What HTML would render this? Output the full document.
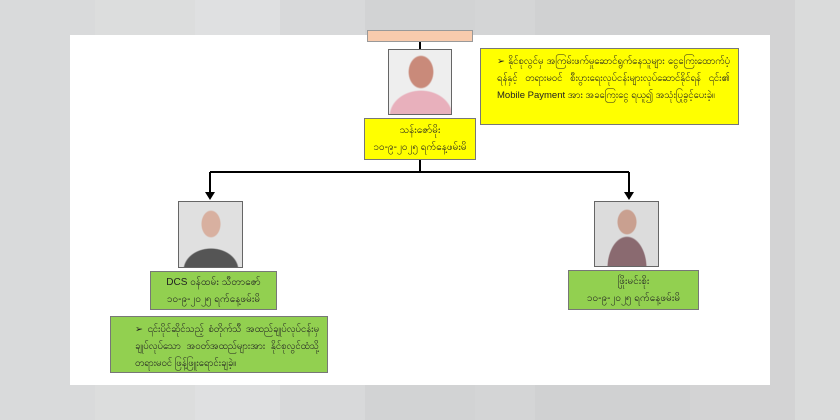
<!DOCTYPE html>
<html><head><meta charset="utf-8"><style>
body{margin:0;width:840px;height:420px;overflow:hidden;position:relative;font-family:"Liberation Sans","Noto Sans CJK SC",sans-serif;
background:linear-gradient(90deg,#d9dadb 0,#d9dadb 95px,#dcdddd 95px,#dcdddd 195px,#dfe0e1 195px,#dfe0e1 280px,#d8d9da 280px,#d8d9da 365px,#d2d3d4 365px,#d2d3d4 475px,#d4d5d6 475px,#d4d5d6 535px,#d0d1d2 535px,#d0d1d2 690px,#d3d3d4 690px,#d3d3d4 795px,#dadbdb 795px);}
.p{position:absolute;box-sizing:border-box}
.panel{left:70px;top:35px;width:700px;height:350px;background:#fff}
.box{border:1px solid #777;font-size:10px;text-align:center;line-height:17px;color:#222;display:flex;flex-direction:column;justify-content:center}
.y{background:#ffff00}.g{background:#92d050}
.photo{border:1px solid #666;background:linear-gradient(#eee,#ccc)}
.txt{text-align:justify;padding:4px 8px 0 16px;line-height:17px;font-size:9.5px;display:block}
</style></head><body>
<div class="p panel"></div>
<div class="p" style="left:367px;top:30px;width:106px;height:12px;background:#f8cbad;border:1px solid #999"></div>
<div class="p" style="left:419px;top:42px;width:2px;height:7px;background:#000"></div>
<div class="p photo" style="left:388px;top:49px;width:64px;height:66px;background:radial-gradient(ellipse 13px 17px at 32px 22px,#c98a7a 90%,transparent 100%),radial-gradient(ellipse 32px 26px at 32px 66px,#e8b0bc 95%,transparent 100%),#eeeeee"></div>
<div class="p box y" style="left:364px;top:118px;width:112px;height:42px">သန်းဇော်မိုး<br>၁၀-၉-၂၀၂၅ ရက်နေ့ဖမ်းမိ</div>
<div class="p box y txt" style="left:480px;top:48px;width:259px;height:77px">➢ နိုင်စုလွင်မှ အကြမ်းဖက်မှုဆောင်ရွက်နေသူများ ငွေကြေးထောက်ပံ့ရန်နှင့် တရားမဝင် စီးပွားရေးလုပ်ငန်းများလုပ်ဆောင်နိုင်ရန် ၎င်း၏ Mobile Payment အား အခကြေးငွေ ရယူ၍ အသုံးပြုခွင့်ပေးခဲ့။</div>
<svg class="p" style="left:0;top:0" width="840" height="420">
<path d="M420 160V172M210 172H629M210 172V194M629 172V194" stroke="#000" stroke-width="2" fill="none"/>
<path d="M205 192L210 200L215 192Z M624 192L629 200L634 192Z" fill="#000"/>
</svg>
<div class="p photo" style="left:178px;top:201px;width:65px;height:67px;background:radial-gradient(ellipse 10px 14px at 32px 22px,#d8b0a0 90%,transparent 100%),radial-gradient(ellipse 28px 22px at 32px 68px,#555 95%,transparent 100%),#e0e0e0"></div>
<div class="p box g" style="left:150px;top:271px;width:127px;height:39px">DCS ဝန်ထမ်း သီတာဇော်<br>၁၀-၉-၂၀၂၅ ရက်နေ့ဖမ်းမိ</div>
<div class="p box g txt" style="left:110px;top:316px;width:218px;height:57px;padding-left:24px">➢ ၎င်းပိုင်ဆိုင်သည့် စံတိုက်သီ အထည်ချုပ်လုပ်ငန်းမှ ချုပ်လုပ်သော အဝတ်အထည်များအား နိုင်စုလွင်ထံသို့ တရားမဝင် ဖြန့်ဖြူးရောင်းချခဲ့။</div>
<div class="p photo" style="left:594px;top:201px;width:65px;height:66px;background:radial-gradient(ellipse 10px 13px at 32px 20px,#c9a090 90%,transparent 100%),radial-gradient(ellipse 20px 32px at 32px 66px,#8a6a70 95%,transparent 100%),#dcdcdc"></div>
<div class="p box g" style="left:568px;top:270px;width:131px;height:40px">ဖြိုးမင်းစိုး<br>၁၀-၉-၂၀၂၅ ရက်နေ့ဖမ်းမိ</div>
</body></html>
